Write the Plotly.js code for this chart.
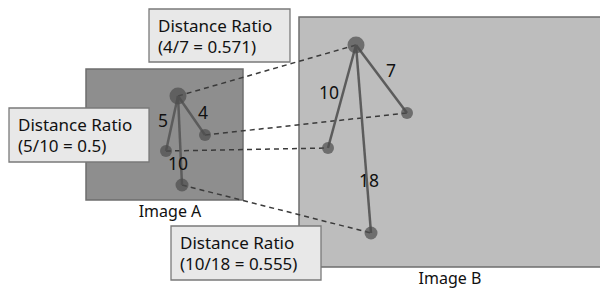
<!DOCTYPE html>
<html><head><meta charset="utf-8">
<script src="https://cdn.plot.ly/plotly-3.0.1.min.js"></script>
<style>html,body{margin:0;padding:0;background:#fff}#plot{width:600px;height:292px}</style>
</head><body><div id="plot"></div>
<script>
// Keypoint positions (pixel space of the figure)
const nodesAX = [178, 205, 166, 182];
const nodesAY = [96, 135, 151, 185];
const nodesBX = [356, 407, 328, 371];
const nodesBY = [45, 113, 148, 233];
const nodeSizes = [17, 12, 12, 13];
// edge distance labels
const edgeLabelsA = ["4", "5", "10"];
const edgeLabelsAX = [203, 163, 178];
const edgeLabelsAY = [115, 123, 166];
const edgeLabelsB = ["7", "10", "18"];
const edgeLabelsBX = [391, 329, 369];
const edgeLabelsBY = [73, 95, 183];
// ratio boxes
const ratioLine1 = ["Distance Ratio", "Distance Ratio", "Distance Ratio"];
const ratioLine2 = ["(4/7 = 0.571)", "(5/10 = 0.5)", "(10/18 = 0.555)"];
const ratioBoxX0 = [149, 9, 171];
const ratioBoxX1 = [290, 149, 321];
const ratioBoxY0 = [9, 108, 226];
const ratioBoxY1 = [62, 162, 280];
const imageLabels = ["Image A", "Image B"];
const imageLabelX = [170, 450];
const imageLabelY = [213, 280];

const fontFam = 'Noto Sans, Open Sans, sans-serif';
const lineCol = '#5c5c5c';
const traces = [];
// dashed correspondences
for (let i = 0; i < 4; i++) {
  traces.push({x:[nodesAX[i], nodesBX[i]], y:[nodesAY[i], nodesBY[i]], mode:'lines',
    line:{color:'#3a3a3a', width:1.5, dash:'5px,4px'}, hoverinfo:'skip', showlegend:false});
}
// solid edges
for (let i = 1; i < 4; i++) {
  traces.push({x:[nodesAX[0], nodesAX[i]], y:[nodesAY[0], nodesAY[i]], mode:'lines',
    line:{color:lineCol, width:2.5}, hoverinfo:'skip', showlegend:false});
  traces.push({x:[nodesBX[0], nodesBX[i]], y:[nodesBY[0], nodesBY[i]], mode:'lines',
    line:{color:lineCol, width:2.5}, hoverinfo:'skip', showlegend:false});
}
traces.push({x:nodesAX, y:nodesAY, mode:'markers', marker:{size:nodeSizes, color:'#4d4d4d', line:{width:0}}, hoverinfo:'skip', showlegend:false});
traces.push({x:nodesBX, y:nodesBY, mode:'markers', marker:{size:nodeSizes, color:'#4d4d4d', line:{width:0}}, hoverinfo:'skip', showlegend:false});
traces.push({x:edgeLabelsAX.concat(edgeLabelsBX), y:edgeLabelsAY.concat(edgeLabelsBY), text:edgeLabelsA.concat(edgeLabelsB),
  mode:'text', textfont:{family:fontFam, size:17.5, color:'#111'}, hoverinfo:'skip', showlegend:false});
traces.push({x:imageLabelX, y:imageLabelY, text:imageLabels, mode:'text',
  textfont:{family:fontFam, size:16, color:'#111'}, hoverinfo:'skip', showlegend:false});

const shapes = [
  {type:'rect', xref:'x', yref:'y', x0:86, x1:243, y0:69, y1:200, fillcolor:'#8e8e8e', line:{color:'#6e6e6e', width:1.5}, layer:'below'},
  {type:'rect', xref:'x', yref:'y', x0:299, x1:602, y0:17, y1:267, fillcolor:'#bdbdbd', line:{color:'#6e6e6e', width:1.5}, layer:'below'}
];
const annotations = [];
for (let i = 0; i < 3; i++) {
  shapes.push({type:'rect', xref:'x', yref:'y', x0:ratioBoxX0[i], x1:ratioBoxX1[i], y0:ratioBoxY0[i], y1:ratioBoxY1[i],
    fillcolor:'#e8e8e8', line:{color:'#7a7a7a', width:1.3}, layer:'above'});
  annotations.push({x:ratioBoxX0[i]+7, y:ratioBoxY0[i]+16, xref:'x', yref:'y', text:ratioLine1[i], showarrow:false,
    xanchor:'left', yanchor:'middle', font:{family:fontFam, size:17, color:'#111'}});
  annotations.push({x:ratioBoxX0[i]+7, y:ratioBoxY0[i]+37, xref:'x', yref:'y', text:ratioLine2[i], showarrow:false,
    xanchor:'left', yanchor:'middle', font:{family:fontFam, size:17, color:'#111'}});
}

const layout = {
  width:600, height:292, margin:{l:0, r:0, t:0, b:0},
  paper_bgcolor:'#fff', plot_bgcolor:'#fff',
  xaxis:{range:[0,600], visible:false, fixedrange:true},
  yaxis:{range:[292,0], visible:false, fixedrange:true},
  shapes:shapes, annotations:annotations
};
Plotly.newPlot('plot', traces, layout, {staticPlot:true, displayModeBar:false});
</script></body></html>
